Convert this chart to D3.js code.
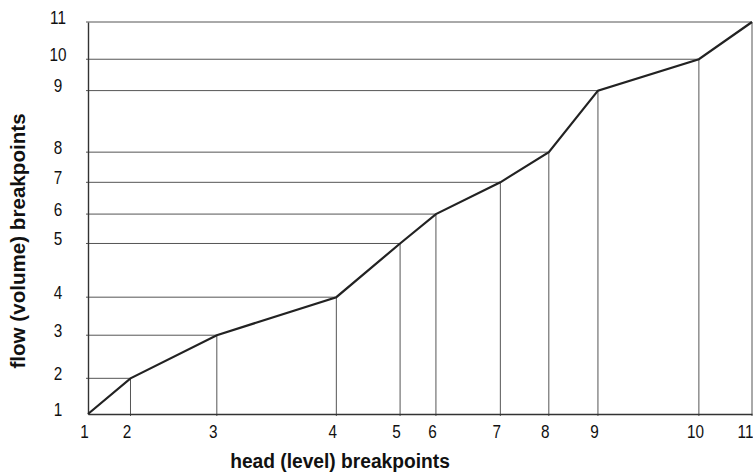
<!DOCTYPE html>
<html>
<head>
<meta charset="utf-8">
<script src="https://cdn.jsdelivr.net/npm/d3@7/dist/d3.min.js"></script>
<style>
  html, body { margin: 0; padding: 0; background: #fff; }
  svg { display: block; }
  .tick text { font-family: "Liberation Sans", Arial, sans-serif; font-size: 18px; fill: #111; }
  .title { font-family: "Liberation Sans", Arial, sans-serif; font-weight: bold; font-size: 20px; fill: #111; }
</style>
</head>
<body>
<svg id="chart" width="753" height="473"></svg>
<script>
// Breakpoint labels and the relative head / flow level of each breakpoint (0–100)
const breakpoints = ["1", "2", "3", "4", "5", "6", "7", "8", "9", "10", "11"];
const headLevels = [0, 6.4, 19.4, 37.4, 47.0, 52.4, 62.1, 69.4, 76.8, 92.0, 100];
const flowLevels = [0, 9.1, 20.1, 29.8, 43.5, 51.0, 59.1, 66.8, 82.5, 90.5, 100];

const svg = d3.select("#chart");
const margin = { left: 88, right: 1, top: 22, bottom: 59 };
const W = 753, H = 473;
const narrow = 0.85; // horizontal squeeze for a condensed look

const x = d3.scaleLinear().domain([0, 100]).range([margin.left, W - margin.right]);
const y = d3.scaleLinear().domain([0, 100]).range([H - margin.bottom, margin.top]);

const pts = headLevels.map((h, i) => ({ h, f: flowLevels[i], label: breakpoints[i] }));

// Guide lines: horizontal from the flow axis, vertical down to the head axis
const guides = svg.append("g").attr("stroke", "#555").attr("stroke-width", 1);
guides.selectAll("line.h").data(pts.slice(1)).join("line")
  .attr("class", "h")
  .attr("x1", x(0) - 2).attr("x2", d => x(d.h))
  .attr("y1", d => y(d.f)).attr("y2", d => y(d.f));
guides.selectAll("line.v").data(pts.slice(1)).join("line")
  .attr("class", "v")
  .attr("x1", d => x(d.h)).attr("x2", d => x(d.h))
  .attr("y1", d => y(d.f)).attr("y2", y(0) + 2);

// Axes
const xAxis = d3.axisBottom(x)
  .tickValues(headLevels)
  .tickFormat((d, i) => breakpoints[i])
  .tickSize(0).tickPadding(11);
const gx = svg.append("g").attr("transform", `translate(0,${y(0)})`).call(xAxis);
gx.select(".domain").attr("stroke", "#333").attr("stroke-width", 1.6);
gx.selectAll(".tick text")
  .attr("transform", (d, i) => i === breakpoints.length - 1
    ? `translate(-7,0) scale(${narrow},1)`
    : `translate(-4,0) scale(${narrow},1)`);

const yAxis = d3.axisLeft(y)
  .tickValues(flowLevels)
  .tickFormat((d, i) => breakpoints[i])
  .tickSize(0).tickPadding(0);
const gy = svg.append("g").attr("transform", `translate(${x(0)},0)`).call(yAxis);
gy.select(".domain").attr("stroke", "#333").attr("stroke-width", 1.4);
gy.selectAll(".tick text")
  .attr("text-anchor", "middle")
  .attr("x", 0)
  .attr("transform", `translate(-30,-4.5) scale(${narrow},1)`);

// Piecewise linear head–flow relation
const line = d3.line().x(d => x(d.h)).y(d => y(d.f));
svg.append("path")
  .datum(pts)
  .attr("fill", "none")
  .attr("stroke", "#222")
  .attr("stroke-width", 2.2)
  .attr("stroke-linejoin", "miter")
  .attr("d", line);

// Axis titles
svg.append("text")
  .attr("class", "title")
  .attr("transform", "translate(340,468) scale(0.96,1)")
  .attr("text-anchor", "middle")
  .text("head (level) breakpoints");

svg.append("text")
  .attr("class", "title")
  .attr("transform", "translate(25,241) rotate(-90) scale(1.03,1)")
  .attr("text-anchor", "middle")
  .text("flow (volume) breakpoints");
</script>
</body>
</html>
